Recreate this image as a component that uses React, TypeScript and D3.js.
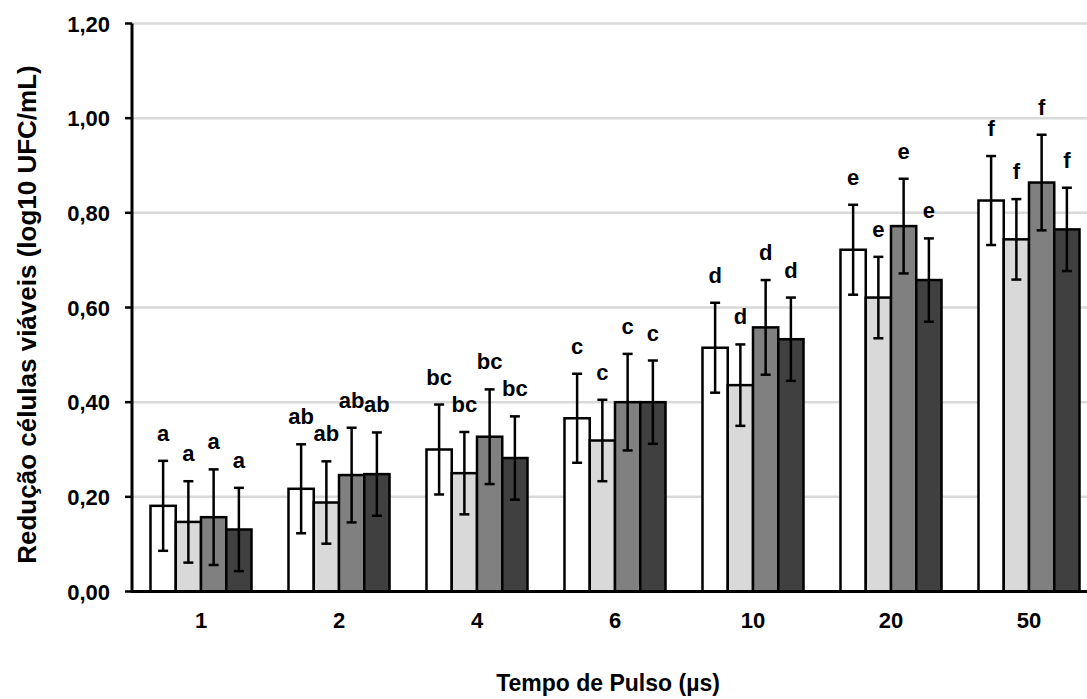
import React from "react";
import * as d3 from "d3";

const categories = ["1", "2", "4", "6", "10", "20", "50"];
const seriesKeys = ["s1", "s2", "s3", "s4"];
const seriesFill = ["#ffffff", "#d9d9d9", "#808080", "#404040"];

const meansS1 = [0.181, 0.217, 0.3, 0.366, 0.515, 0.722, 0.826];
const meansS2 = [0.147, 0.188, 0.25, 0.319, 0.436, 0.621, 0.744];
const meansS3 = [0.157, 0.246, 0.327, 0.4, 0.558, 0.772, 0.864];
const meansS4 = [0.131, 0.248, 0.282, 0.4, 0.533, 0.658, 0.765];

const errS1 = [0.095, 0.094, 0.095, 0.094, 0.095, 0.095, 0.094];
const errS2 = [0.086, 0.087, 0.087, 0.086, 0.086, 0.086, 0.085];
const errS3 = [0.101, 0.1, 0.1, 0.102, 0.1, 0.1, 0.101];
const errS4 = [0.088, 0.088, 0.088, 0.088, 0.088, 0.088, 0.088];

const groupLetters = ["a", "ab", "bc", "c", "d", "e", "f"];
const yTicks = [0, 0.2, 0.4, 0.6, 0.8, 1.0, 1.2];

const yTitle = "Redução células viáveis (log10 UFC/mL)";
const xTitle = "Tempo de Pulso (µs)";

const means = [meansS1, meansS2, meansS3, meansS4];
const errs = [errS1, errS2, errS3, errS4];

const W = 1087;
const H = 699;
const left = 132;
const right = 1098;
const top = 23.5;
const bottom = 591.5;
const FONT = "'Liberation Sans', Arial, sans-serif";

export default function App() {
  const x0 = d3
    .scaleBand<string>()
    .domain(categories)
    .range([left, right])
    .paddingInner(0.268)
    .paddingOuter(0.134);
  const x1 = d3
    .scaleBand<string>()
    .domain(seriesKeys)
    .range([0, x0.bandwidth()])
    .padding(0);
  const y = d3.scaleLinear().domain([0, 1.2]).range([bottom, top]);
  const fmt = (v: number) => d3.format(".2f")(v).replace(".", ",");

  return (
    <svg
      width={W}
      height={H}
      style={{ position: "absolute", left: 0, top: 0, background: "#fff" }}
      fontFamily={FONT}
    >
      <rect x={0} y={0} width={W} height={H} fill="#fff" />
      {yTicks.slice(1).map((t) => (
        <line
          key={"g" + t}
          x1={left}
          x2={right}
          y1={y(t)}
          y2={y(t)}
          stroke="#d9d9d9"
          strokeWidth={2.5}
        />
      ))}
      {categories.map((c, ci) => (
        <g key={c} transform={`translate(${x0(c)},0)`}>
          {seriesKeys.map((s, si) => {
            const v = means[si][ci];
            return (
              <rect
                key={s}
                x={x1(s)}
                y={y(v)}
                width={x1.bandwidth()}
                height={y(0) - y(v)}
                fill={seriesFill[si]}
                stroke="#000"
                strokeWidth={2.5}
              />
            );
          })}
        </g>
      ))}
      {categories.map((c, ci) => (
        <g key={"e" + c} transform={`translate(${x0(c)},0)`}>
          {seriesKeys.map((s, si) => {
            const v = means[si][ci];
            const e = errs[si][ci];
            const cx = (x1(s) as number) + x1.bandwidth() / 2;
            const yt = y(v + e);
            const yb = y(v - e);
            return (
              <g key={s}>
                <line x1={cx} x2={cx} y1={yt} y2={yb} stroke="#000" strokeWidth={2.5} />
                <line x1={cx - 5} x2={cx + 5} y1={yt} y2={yt} stroke="#000" strokeWidth={2.5} />
                <line x1={cx - 5} x2={cx + 5} y1={yb} y2={yb} stroke="#000" strokeWidth={2.5} />
                <text
                  x={cx}
                  y={yt - 20}
                  textAnchor="middle"
                  fontSize={22}
                  fontWeight="bold"
                  fill="#000"
                >
                  {groupLetters[ci]}
                </text>
              </g>
            );
          })}
        </g>
      ))}
      <line x1={left} x2={left} y1={top} y2={bottom} stroke="#000" strokeWidth={3} />
      <line x1={left - 1.5} x2={right} y1={bottom} y2={bottom} stroke="#000" strokeWidth={3} />
      {yTicks.map((t) => (
        <g key={"t" + t}>
          <line x1={left - 7} x2={left} y1={y(t)} y2={y(t)} stroke="#000" strokeWidth={2.5} />
          <text
            x={110}
            y={y(t) + 8}
            textAnchor="end"
            fontSize={22}
            fontWeight="bold"
            fill="#000"
          >
            {fmt(t)}
          </text>
        </g>
      ))}
      {categories.map((c) => (
        <text
          key={"xl" + c}
          x={(x0(c) as number) + x0.bandwidth() / 2}
          y={628}
          textAnchor="middle"
          fontSize={22}
          fontWeight="bold"
          fill="#000"
        >
          {c}
        </text>
      ))}
      <text
        x={608}
        y={691}
        textAnchor="middle"
        fontSize={23}
        fontWeight="bold"
        fill="#000"
      >
        {xTitle}
      </text>
      <text
        transform={`translate(36,${(top + bottom) / 2 + 7}) rotate(-90)`}
        textAnchor="middle"
        fontSize={26}
        fontWeight="bold"
        fill="#000"
      >
        {yTitle}
      </text>
    </svg>
  );
}
